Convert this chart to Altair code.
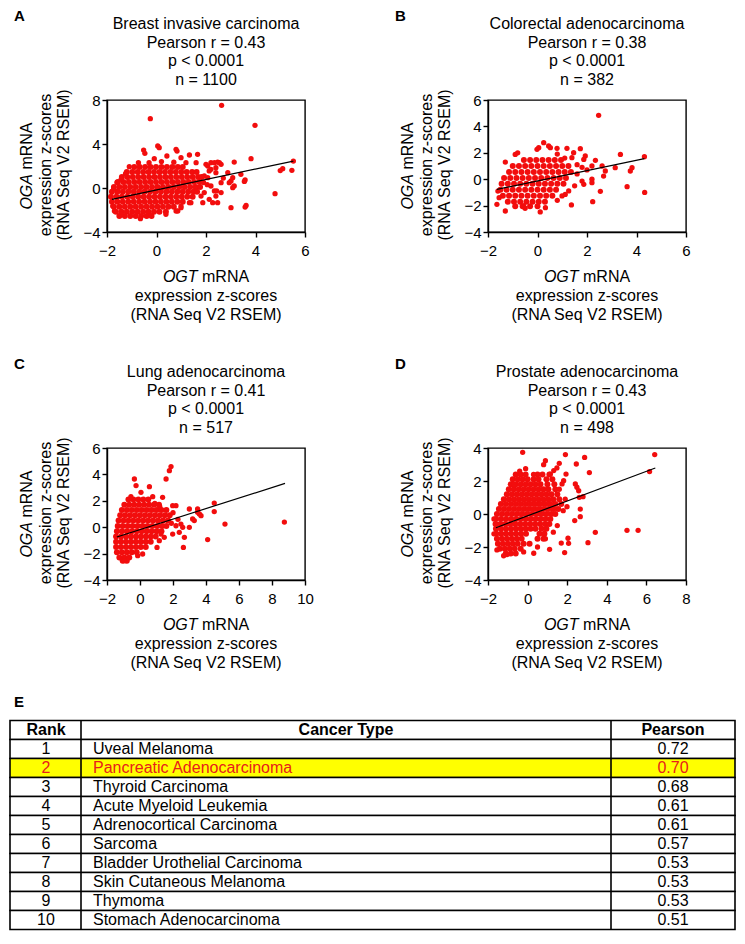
import altair as alt
import pandas as pd

FONT = "Liberation Sans"
RED = "#f20d0d"

# ------------------------------------------------------------------ data
A_title = ["Breast invasive carcinoma", "Pearson r = 0.43", "p < 0.0001", "n = 1100"]
B_title = ["Colorectal adenocarcinoma", "Pearson r = 0.38", "p < 0.0001", "n = 382"]
C_title = ["Lung adenocarcinoma", "Pearson r = 0.41", "p < 0.0001", "n = 517"]
D_title = ["Prostate adenocarcinoma", "Pearson r = 0.43", "p < 0.0001", "n = 498"]

x_gene = "OGT"
y_gene = "OGA"
title_rest = "mRNA"
title_lines = ["expression z-scores", "(RNA Seq V2 RSEM)"]

A_xdom, A_xticks, A_ydom, A_yticks = [-2, 6], [-2, 0, 2, 4, 6], [-4, 8], [-4, 0, 4, 8]
B_xdom, B_xticks, B_ydom, B_yticks = [-2, 6], [-2, 0, 2, 4, 6], [-4, 6], [-4, -2, 0, 2, 4, 6]
C_xdom, C_xticks, C_ydom, C_yticks = [-2, 10], [-2, 0, 2, 4, 6, 8, 10], [-4, 6], [-4, -2, 0, 2, 4, 6]
D_xdom, D_xticks, D_ydom, D_yticks = [-2, 8], [-2, 0, 2, 4, 6, 8], [-4, 4], [-4, -2, 0, 2, 4]

# dense cores: (y, [x ...])
A_core = [
    (1.9, [-0.9, -0.68, -0.46, -0.24, -0.02, 0.2, 0.42, 0.64, 0.86, 1.06]),
    (1.45, [-1.2, -0.98, -0.76, -0.54, -0.32, -0.1, 0.12, 0.34, 0.56, 0.78, 1.0, 1.22, 1.44, 1.62]),
    (1.0, [-1.4, -1.18, -0.96, -0.74, -0.52, -0.3, -0.08, 0.14, 0.36, 0.58, 0.8, 1.02, 1.24, 1.46, 1.68, 1.82]),
    (0.55, [-1.56, -1.34, -1.12, -0.9, -0.68, -0.46, -0.24, -0.02, 0.2, 0.42, 0.64, 0.86, 1.08, 1.3, 1.52, 1.74]),
    (0.1, [-1.72, -1.5, -1.28, -1.06, -0.84, -0.62, -0.4, -0.18, 0.04, 0.26, 0.48, 0.7, 0.92, 1.14, 1.36, 1.58, 1.76]),
    (-0.35, [-1.8, -1.58, -1.36, -1.14, -0.92, -0.7, -0.48, -0.26, -0.04, 0.18, 0.4, 0.62, 0.84, 1.06, 1.28, 1.5, 1.64]),
    (-0.8, [-1.84, -1.62, -1.4, -1.18, -0.96, -0.74, -0.52, -0.3, -0.08, 0.14, 0.36, 0.58, 0.8, 1.02, 1.24, 1.46]),
    (-1.25, [-1.8, -1.58, -1.36, -1.14, -0.92, -0.7, -0.48, -0.26, -0.04, 0.18, 0.4, 0.62, 0.84, 1.06]),
    (-1.7, [-1.72, -1.5, -1.28, -1.06, -0.84, -0.62, -0.4, -0.18, 0.04, 0.26, 0.48, 0.7]),
    (-2.15, [-1.64, -1.42, -1.2, -0.98, -0.76, -0.54, -0.32, -0.1, 0.12, 0.38]),
    (-2.55, [-1.5, -1.28, -1.06, -0.84, -0.62, -0.4, -0.2]),
]
A_outer = [
    (2.63, 7.52), (-0.25, 6.30), (3.98, 5.70), (5.53, 2.45), (5.10, 1.76), (5.00, 1.58), (5.47, 1.61),
    (4.79, -0.52), (3.82, 2.67), (3.14, 2.36), (3.62, -1.58), (3.58, -1.73), (3.01, -1.79), (3.58, 0.73),
    (3.55, 0.60), (3.41, 1.24), (3.08, 0.94), (3.01, 0.64), (3.08, 0.03), (3.14, 0.18), (2.61, -0.42),
    (2.88, 1.39), (-0.52, 3.45), (-0.47, 3.15), (0.05, 3.82), (0.11, 3.67), (0.79, 3.52), (0.83, 3.36),
    (1.33, 3.0), (1.66, 3.06), (-0.09, 2.67), (0.42, 2.91), (0.99, 2.76), (-1.10, 1.94), (-0.73, 2.30),
    (1.60, 2.30), (1.19, 2.30), (0.2, 2.4), (-0.3, 2.3), (0.7, 2.35), (2.07, 2.0), (2.0, 2.15), (2.2, 2.3),
    (2.34, 2.30), (2.47, 2.36), (2.54, 2.30), (2.61, 2.15), (2.40, 1.85), (2.20, 1.70), (2.13, 1.55),
    (2.4, 1.39), (1.93, 1.09), (2.07, 0.94), (1.9, 0.5), (2.05, 0.3), (1.93, -0.42), (1.80, -0.73),
    (1.87, -1.33), (2.13, -1.03), (2.40, -0.73), (2.47, -1.33), (2.27, -1.33), (2.34, -0.27), (2.43, -0.27),
    (2.20, 0.18), (2.61, 0.48), (2.94, 0.48), (2.7, 0.9), (-0.65, -2.79), (0.38, -2.39), (0.79, -2.09),
    (0.86, -2.09), (0.99, -1.79), (0.99, -1.64), (1.33, -1.33), (1.39, -1.33), (-1.43, -2.39), (-1.7, -2.09),
    (-1.77, -1.64), (-1.73, -0.06), (-1.43, 0.79), (-1.25, 1.3), (-1.6, 0.5),
]
A_fit = [(-1.8, -1.04), (5.53, 2.45)]

B_core = [
    (1.45, [-0.55, -0.3, -0.05, 0.2, 0.45, 0.7, 0.95]),
    (1.0, [-1.0, -0.75, -0.5, -0.25, 0.0, 0.25, 0.5, 0.75, 1.0, 1.25]),
    (0.55, [-1.15, -0.9, -0.65, -0.4, -0.15, 0.1, 0.35, 0.6, 0.85, 1.1, 1.35]),
    (0.1, [-1.35, -1.1, -0.85, -0.6, -0.35, -0.1, 0.15, 0.4, 0.65, 0.9, 1.15]),
    (-0.35, [-1.45, -1.2, -0.95, -0.7, -0.45, -0.2, 0.05, 0.3, 0.55, 0.8, 1.05]),
    (-0.8, [-1.5, -1.25, -1.0, -0.75, -0.5, -0.25, 0.0, 0.25, 0.5, 0.75]),
    (-1.25, [-1.4, -1.15, -0.9, -0.65, -0.4, -0.15, 0.1, 0.35, 0.6]),
    (-1.7, [-1.2, -0.95, -0.7, -0.45, -0.2, 0.05, 0.3]),
    (-2.05, [-0.9, -0.6, -0.3, 0.0]),
]
B_outer = [
    (2.47, 4.84), (0.25, 2.77), (-0.02, 2.26), (0.05, 2.39), (0.45, 2.52), (0.52, 2.39), (0.79, 2.34),
    (1.19, 2.34), (1.73, 2.31), (-0.90, 1.88), (3.35, 1.88), (4.32, 1.71), (1.93, 1.76), (1.87, 1.5),
    (2.34, 1.43), (1.46, 2.01), (1.39, 1.63), (0.8, 1.9), (1.1, 1.6), (1.6, 1.1), (1.8, 0.9), (2.0, 0.7),
    (2.2, 1.0), (2.61, 1.0), (2.74, 0.62), (2.67, 0.24), (3.14, 0.87), (3.75, 0.62), (3.82, 0.87),
    (3.62, -0.57), (4.33, -1.0), (2.54, -0.92), (2.23, -1.70), (1.37, -1.95), (1.80, -0.14), (1.87, -0.39),
    (2.2, -0.26), (2.2, 0.0), (1.6, 0.4), (1.5, -0.5), (-1.64, -1.90), (-1.30, -2.41), (0.11, -2.48),
    (0.32, -2.16), (-0.56, -2.03), (-0.5, -2.2), (1.26, -0.89), (1.12, -1.15), (0.99, -1.27), (0.8, -1.6),
    (-1.55, -1.4), (-1.6, -0.9), (-1.3, 1.3), (-0.8, 2.0),
]
B_fit = [(-1.64, -0.77), (4.32, 1.56)]

C_core = [
    (2.1, [-0.7, -0.4, -0.1, 0.2, 0.5]),
    (1.7, [-0.95, -0.65, -0.35, -0.05, 0.25, 0.55, 0.85, 1.15]),
    (1.3, [-1.1, -0.8, -0.5, -0.2, 0.1, 0.4, 0.7, 1.0, 1.3, 1.6]),
    (0.9, [-1.2, -0.9, -0.6, -0.3, 0.0, 0.3, 0.6, 0.9, 1.2, 1.5, 1.8]),
    (0.5, [-1.3, -1.0, -0.7, -0.4, -0.1, 0.2, 0.5, 0.8, 1.1, 1.4, 1.7]),
    (0.1, [-1.35, -1.05, -0.75, -0.45, -0.15, 0.15, 0.45, 0.75, 1.05, 1.35, 1.6]),
    (-0.3, [-1.4, -1.1, -0.8, -0.5, -0.2, 0.1, 0.4, 0.7, 1.0, 1.3]),
    (-0.7, [-1.45, -1.15, -0.85, -0.55, -0.25, 0.05, 0.35, 0.65, 0.95]),
    (-1.1, [-1.45, -1.15, -0.85, -0.55, -0.25, 0.05, 0.35, 0.65]),
    (-1.5, [-1.45, -1.15, -0.85, -0.55, -0.25, 0.05, 0.35]),
    (-1.9, [-1.4, -1.1, -0.8, -0.5, -0.2]),
    (-2.3, [-1.25, -0.95, -0.65]),
    (-2.55, [-1.05, -0.8]),
]
C_outer = [
    (1.88, 4.59), (1.78, 4.28), (1.58, 3.65), (-0.34, 3.65), (-0.24, 3.15), (0.57, 3.07), (-0.55, 2.31),
    (0.06, 2.64), (0.77, 2.31), (1.37, 2.26), (2.18, 1.63), (1.98, 1.63), (2.99, 1.38), (3.49, 1.38),
    (3.6, 1.0), (3.7, 0.87), (3.49, 1.13), (4.5, 1.83), (4.5, 1.18), (5.15, 0.24), (8.75, 0.39),
    (4.1, -0.94), (2.63, -1.53), (1.03, -1.53), (3.29, 0.5), (2.48, 0.24), (2.59, -0.01), (2.18, 0.11),
    (1.98, -0.52), (2.38, -0.39), (2.99, -0.01), (3.19, 0.62), (2.69, -0.77), (1.27, -0.52), (1.47, -0.77),
    (1.17, -1.02), (0.16, -2.03), (-0.14, -2.16), (-0.95, -2.54), (0.9, 1.8), (1.2, 1.55), (2.0, 1.1),
    (2.3, 0.6), (1.9, 0.3),
]
C_fit = [(-1.4, -0.74), (8.79, 3.32)]

D_core = [
    (2.4, [-0.6, -0.35, -0.1, 0.5, 0.75, 1.1]),
    (2.1, [-0.75, -0.5, -0.25, 0.0, 0.3, 0.55, 0.95, 1.25]),
    (1.8, [-0.85, -0.6, -0.35, -0.1, 0.15, 0.4, 0.65, 1.0, 1.35]),
    (1.5, [-0.95, -0.7, -0.45, -0.2, 0.05, 0.3, 0.55, 0.8, 1.05, 1.4]),
    (1.2, [-1.05, -0.8, -0.55, -0.3, -0.05, 0.2, 0.45, 0.7, 0.95, 1.2, 1.5]),
    (0.9, [-1.2, -0.95, -0.7, -0.45, -0.2, 0.05, 0.3, 0.55, 0.8, 1.05, 1.3, 1.6]),
    (0.6, [-1.35, -1.1, -0.85, -0.6, -0.35, -0.1, 0.15, 0.4, 0.65, 0.9, 1.15, 1.4, 1.7]),
    (0.3, [-1.45, -1.2, -0.95, -0.7, -0.45, -0.2, 0.05, 0.3, 0.55, 0.8, 1.05, 1.3, 1.55]),
    (0.0, [-1.55, -1.3, -1.05, -0.8, -0.55, -0.3, -0.05, 0.2, 0.45, 0.7, 0.95, 1.2, 1.4]),
    (-0.3, [-1.6, -1.35, -1.1, -0.85, -0.6, -0.35, -0.1, 0.15, 0.4, 0.65, 0.9, 1.15]),
    (-0.6, [-1.62, -1.37, -1.12, -0.87, -0.62, -0.37, -0.12, 0.13, 0.38, 0.63, 0.88, 1.1]),
    (-0.9, [-1.6, -1.35, -1.1, -0.85, -0.6, -0.35, -0.1, 0.15, 0.4, 0.7, 0.95]),
    (-1.2, [-1.58, -1.33, -1.08, -0.83, -0.58, -0.33, -0.08, 0.6, 0.85]),
    (-1.5, [-1.55, -1.3, -1.05, -0.8, -0.55, -0.3, 0.5, 0.8]),
    (-1.8, [-1.5, -1.25, -1.0, -0.75, -0.5, -0.2, 0.1]),
    (-2.1, [-1.4, -1.15, -0.9, -0.65, -0.35]),
    (-2.4, [-1.1, -0.85, -0.6]),
]
D_outer = [
    (-0.25, 3.74), (1.91, 3.6), (2.88, 3.43), (6.42, 3.6), (6.16, 2.57), (2.46, 3.03), (3.12, 2.51),
    (0.9, 3.23), (0.81, 2.99), (1.6, 3.07), (1.48, 2.79), (1.32, 2.63), (1.15, 2.42), (1.94, 2.42),
    (1.82, 2.02), (1.74, 1.82), (2.41, 1.82), (2.49, 1.62), (2.58, 1.41), (2.61, 1.01), (2.80, 1.05),
    (-0.7, 1.78), (1.99, 0.44), (2.66, 0.3), (2.66, -0.16), (2.38, -0.4), (3.42, -1.11), (3.05, -1.74),
    (5.02, -0.99), (5.58, -0.99), (2.07, -1.78), (2.04, -1.47), (1.70, -1.76), (1.87, -2.34), (1.11, -2.14),
    (0.31, -2.38), (-1.04, -2.46), (-1.21, -2.53), (-1.55, -2.18), (-0.4, 2.6), (-0.1, 2.75), (0.3, 2.4),
    (1.6, 1.5), (1.9, 0.9), (1.8, 0.2), (1.5, -0.7), (1.3, -1.1), (0.9, -1.5), (0.5, -2.0), (-0.2, -2.3),
    (-1.7, -0.3), (-1.7, -1.2),
]
D_fit = [(-1.6, -0.83), (6.45, 2.79)]

# table E
ranks = [1, 2, 3, 4, 5, 6, 7, 8, 9, 10]
cancer_types = ["Uveal Melanoma", "Pancreatic Adenocarcinoma", "Thyroid Carcinoma",
                "Acute Myeloid Leukemia", "Adrenocortical Carcinoma", "Sarcoma",
                "Bladder Urothelial Carcinoma", "Skin Cutaneous Melanoma", "Thymoma",
                "Stomach Adenocarcinoma"]
pearson_r = [0.72, 0.70, 0.68, 0.61, 0.61, 0.57, 0.53, 0.53, 0.53, 0.51]
highlight_rank = 2
headers = ["Rank", "Cancer Type", "Pearson"]

# ------------------------------------------------------------------ layout constants
W, H = 198, 132
ONE = pd.DataFrame({"k": [0]})
TITLE_Y = [-76, -57.3, -38.6, -20]
CORE_SIZE, OUTER_SIZE = 36, 28


def txt(text, x, y, **kw):
    style = dict(font=FONT, fontSize=16, color="black", baseline="middle")
    style.update(kw)
    return alt.Chart(ONE).mark_text(**style).encode(
        x=alt.value(x), y=alt.value(y), text=alt.value(text))


def panel_layers(letter, title, core, outer, fit, xdom, xticks, ydom, yticks):
    core_df = pd.DataFrame([(x, y) for y, xs in core for x in xs], columns=["ogt", "oga"])
    outer_df = pd.DataFrame(outer, columns=["ogt", "oga"])
    fdf = pd.DataFrame(fit, columns=["ogt", "oga"])
    xs = alt.Scale(domain=xdom, nice=False, zero=False)
    ys = alt.Scale(domain=ydom, nice=False, zero=False)
    xax = alt.Axis(values=xticks, format="d", title=None, labelPadding=6,
                   labelFlush=False, labelOverlap=False)
    yax = alt.Axis(values=yticks, format="d", title=None, labelPadding=2,
                   labelFlush=False, labelOverlap=False)

    def scatter(df, size):
        return alt.Chart(df).mark_circle(size=size, color=RED, opacity=1).encode(
            x=alt.X("ogt:Q", scale=xs, axis=xax),
            y=alt.Y("oga:Q", scale=ys, axis=yax))

    line = alt.Chart(fdf).mark_line(color="black", strokeWidth=1.2).encode(
        x=alt.X("ogt:Q", scale=xs, axis=xax),
        y=alt.Y("oga:Q", scale=ys, axis=yax))
    layers = [scatter(core_df, CORE_SIZE), scatter(outer_df, OUTER_SIZE), line,
              txt(letter, -93, -84, fontSize=15, fontWeight="bold", align="left")]
    for line_text, ty in zip(title, TITLE_Y):
        layers.append(txt(line_text, W / 2, ty, align="center"))
    layers += [
        txt(x_gene, 90.6, 177, align="right", fontStyle="italic"),
        txt(title_rest, 95, 177, align="left"),
        txt(title_lines[0], W / 2, 196, align="center"),
        txt(title_lines[1], W / 2, 215, align="center"),
        txt(y_gene, -80, 109.6, angle=270, align="left", fontStyle="italic"),
        txt(title_rest, -80, 69.6, angle=270, align="left"),
        txt(title_lines[0], -61, 65, angle=270, align="center"),
        txt(title_lines[1], -43, 65, angle=270, align="center"),
    ]
    return layers


FRAME = alt.ViewBackground(stroke="black", strokeWidth=1.4)

pA = alt.layer(*panel_layers("A", A_title, A_core, A_outer, A_fit, A_xdom, A_xticks, A_ydom, A_yticks)
               ).properties(width=W, height=H, view=FRAME)
pB = alt.layer(*panel_layers("B", B_title, B_core, B_outer, B_fit, B_xdom, B_xticks, B_ydom, B_yticks)
               ).properties(width=W, height=H, view=FRAME)
pD = alt.layer(*panel_layers("D", D_title, D_core, D_outer, D_fit, D_xdom, D_xticks, D_ydom, D_yticks)
               ).properties(width=W, height=H, view=FRAME)

# ------------------------------------------------------------------ table (drawn below panel C)
T_LEFT, T_RIGHT = -97, 628          # relative to panel C's plot area
T_TOP, T_BOTTOM = 272.5, 481.5
COL1, COL2 = -26, 504
row_keys = ["hdr"] + [str(r) for r in ranks]
state = ["hl" if r == highlight_rank else "normal" for r in ranks]
rows_df = pd.DataFrame({"row": row_keys, "state": ["normal"] + state})
tdf = pd.DataFrame({"row": [str(r) for r in ranks], "rank": ranks,
                    "cancer": cancer_types, "pearson": pearson_r, "state": state})
hdr_df = pd.DataFrame({"row": ["hdr"]})
yband = alt.Scale(type="band", domain=row_keys, range=[T_TOP, T_BOTTOM],
                  paddingInner=0, paddingOuter=0)
fill_scale = alt.Scale(domain=["normal", "hl"], range=["white", "#ffff00"])
text_scale = alt.Scale(domain=["normal", "hl"], range=["black", "#e8201a"])

cells = alt.Chart(rows_df).mark_rect(stroke="black", strokeWidth=1.6).encode(
    y=alt.Y("row:N", scale=yband, axis=None),
    x=alt.value(T_LEFT), x2=alt.value(T_RIGHT),
    fill=alt.Fill("state:N", scale=fill_scale, legend=None))


def vline(x):
    return alt.Chart(ONE).mark_rule(color="black", strokeWidth=1.6).encode(
        x=alt.value(x), y=alt.value(T_TOP), y2=alt.value(T_BOTTOM))


def hdr(label, x):
    return alt.Chart(hdr_df).mark_text(font=FONT, fontSize=16, fontWeight="bold",
                                       baseline="middle", align="center").encode(
        y=alt.Y("row:N", scale=yband, axis=None), x=alt.value(x), text=alt.value(label))


def col(field, x, align, fmt=None):
    t = alt.Text(field, format=fmt) if fmt else alt.Text(field)
    return alt.Chart(tdf).mark_text(font=FONT, fontSize=16, baseline="middle", align=align).encode(
        y=alt.Y("row:N", scale=yband, axis=None), x=alt.value(x), text=t,
        color=alt.Color("state:N", scale=text_scale, legend=None))


table_layer = alt.layer(
    cells, vline(COL1), vline(COL2),
    hdr(headers[0], -61), hdr(headers[1], 239), hdr(headers[2], 566),
    col("rank:N", -61, "center"),
    col("cancer:N", -14, "left"),
    col("pearson:Q", 566, "center", ".2f"),
    txt("E", -93, 253.5, fontSize=15, fontWeight="bold", align="left"),
)

pC = alt.layer(
    alt.layer(*panel_layers("C", C_title, C_core, C_outer, C_fit, C_xdom, C_xticks, C_ydom, C_yticks)),
    table_layer,
).resolve_scale(y="independent").properties(width=W, height=H, view=FRAME)

chart = alt.concat(
    pA, pB, pC, pD, columns=2, bounds="flush",
    spacing={"row": 216, "column": 183},
).properties(
    padding={"left": 0, "top": 0, "right": 0, "bottom": 0}
).configure_axis(
    labelFont=FONT, labelFontSize=15, labelColor="black",
    domainColor="black", domainWidth=1.4, tickColor="black", tickWidth=1.4,
    tickSize=5, grid=False
)

chart.save("out.html", embed_options={"renderer": "svg", "actions": False})
